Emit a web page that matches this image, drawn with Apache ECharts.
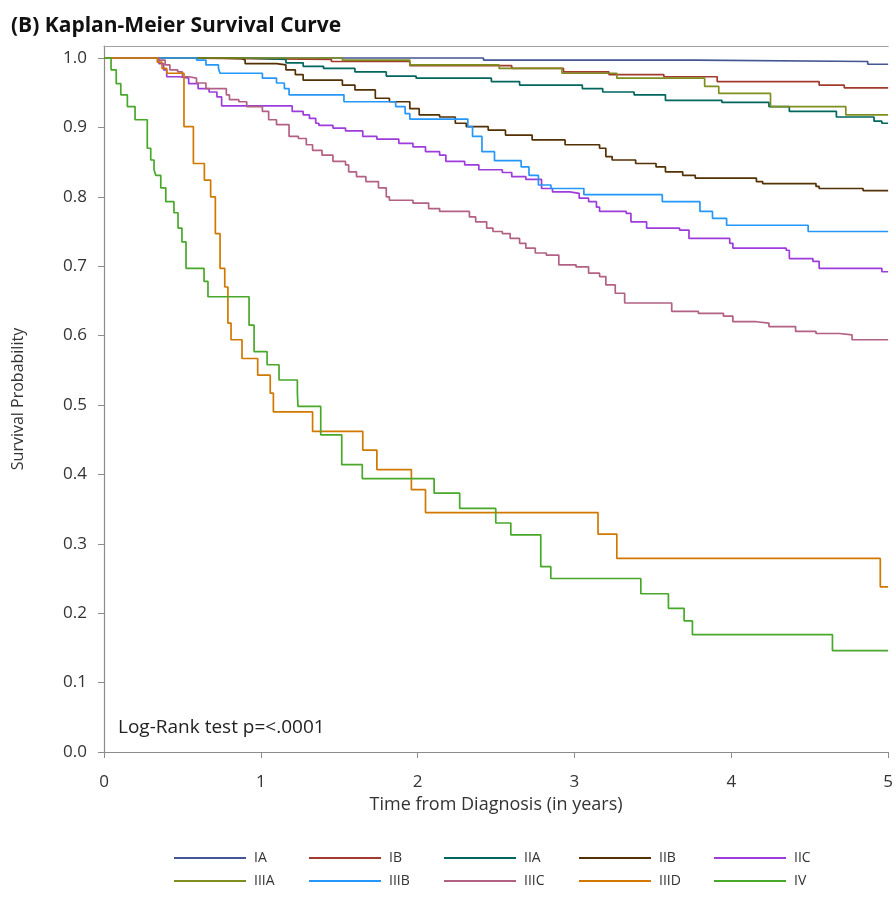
<!DOCTYPE html>
<html>
<head>
<meta charset="utf-8">
<title>Kaplan-Meier Survival Curve</title>
<script src="https://cdn.jsdelivr.net/npm/echarts@6/dist/echarts.min.js"></script>
<style>
	html, body { margin: 0; padding: 0; background: #fff; }
	#km-chart { width: 896px; height: 899px; }
</style>
</head>
<body>
<div id="km-chart"></div>
<script>
// stage names, in legend order
var stageNames = ['IA', 'IB', 'IIA', 'IIB', 'IIC', 'IIIA', 'IIIB', 'IIIC', 'IIID', 'IV'];
var stageColors = ['#445694', '#A23A2E', '#01665E', '#543005', '#9D3CDB',
	'#7F8E1F', '#2597FA', '#B26084', '#D17800', '#47A82A'];

var xTicks = [0, 1, 2, 3, 4, 5];
var yTicks = [0, 0.1, 0.2, 0.3, 0.4, 0.5, 0.6, 0.7, 0.8, 0.9, 1.0];

// [time in years, survival probability after the step]
var kmIA = [[0, 1], [2.42, 0.997], [3.77, 0.995], [4.87, 0.991], [5, 0.991]];

var kmIB = [[0, 1], [0.4, 0.998], [1.45, 0.995], [1.95, 0.989], [2.6, 0.985], [2.93, 0.98],
	[3.22, 0.976], [3.57, 0.973], [3.91, 0.966], [4.56, 0.961], [4.72, 0.957], [5, 0.957]];

var kmIIA = [[0, 1], [0.9, 0.998], [1.16, 0.993], [1.27, 0.988], [1.4, 0.985], [1.6, 0.98],
	[1.8, 0.974], [1.99, 0.971], [2.47, 0.966], [2.65, 0.961], [3.05, 0.956], [3.18, 0.951],
	[3.38, 0.947], [3.58, 0.939], [3.94, 0.936], [4.24, 0.93], [4.37, 0.923], [4.67, 0.915],
	[4.91, 0.909], [4.96, 0.906], [5, 0.906]];

var kmIIB = [[0, 1], [0.7, 0.999], [0.88, 0.997], [0.9, 0.992], [1.1, 0.99], [1.16, 0.983],
	[1.22, 0.976], [1.27, 0.968], [1.52, 0.961], [1.6, 0.954], [1.73, 0.942], [1.82, 0.937],
	[1.95, 0.927], [2.01, 0.918], [2.14, 0.915], [2.24, 0.906], [2.31, 0.901], [2.45, 0.896],
	[2.56, 0.889], [2.73, 0.882], [2.94, 0.875], [3.16, 0.87], [3.2, 0.858], [3.24, 0.853],
	[3.39, 0.848], [3.52, 0.843], [3.58, 0.836], [3.69, 0.831], [3.77, 0.827], [4.16, 0.822],
	[4.2, 0.819], [4.54, 0.815], [4.56, 0.812], [4.84, 0.809], [5, 0.809]];

var kmIIC = [[0, 1], [0.35, 0.992], [0.38, 0.983], [0.4, 0.973], [0.48, 0.971], [0.54, 0.963],
	[0.6, 0.956], [0.67, 0.951], [0.72, 0.944], [0.75, 0.931], [1.2, 0.923], [1.27, 0.918],
	[1.31, 0.913], [1.35, 0.906], [1.37, 0.903], [1.46, 0.899], [1.54, 0.895], [1.65, 0.887],
	[1.74, 0.883], [1.88, 0.877], [1.97, 0.872], [2.05, 0.865], [2.14, 0.86], [2.18, 0.851],
	[2.3, 0.846], [2.39, 0.839], [2.54, 0.835], [2.6, 0.829], [2.69, 0.825], [2.79, 0.812],
	[2.86, 0.807], [2.97, 0.805], [3.03, 0.798], [3.09, 0.793], [3.14, 0.785], [3.16, 0.779],
	[3.33, 0.776], [3.36, 0.764], [3.46, 0.755], [3.67, 0.752], [3.73, 0.74], [3.99, 0.733],
	[4.01, 0.726], [4.35, 0.723], [4.37, 0.711], [4.52, 0.707], [4.56, 0.697], [4.96, 0.692],
	[5, 0.692]];

var kmIIIA = [[0, 1], [1.52, 0.997], [1.95, 0.99], [2.52, 0.985], [2.92, 0.978], [3.27, 0.971],
	[3.83, 0.959], [3.92, 0.949], [4.25, 0.93], [4.73, 0.918], [5, 0.918]];

var kmIIIB = [[0, 1], [0.59, 0.997], [0.65, 0.99], [0.73, 0.985], [0.74, 0.978], [1.01, 0.971],
	[1.1, 0.964], [1.15, 0.956], [1.18, 0.947], [1.53, 0.937], [1.86, 0.93], [1.92, 0.92],
	[1.95, 0.912], [2.32, 0.901], [2.35, 0.887], [2.41, 0.865], [2.49, 0.852], [2.66, 0.843],
	[2.71, 0.831], [2.77, 0.817], [2.85, 0.812], [3.06, 0.803], [3.56, 0.793], [3.8, 0.779],
	[3.88, 0.769], [3.97, 0.759], [4.49, 0.75], [5, 0.75]];

var kmIIIC = [[0, 1], [0.35, 0.997], [0.39, 0.99], [0.42, 0.983], [0.47, 0.98], [0.5, 0.973],
	[0.54, 0.971], [0.59, 0.964], [0.65, 0.956], [0.78, 0.947], [0.8, 0.94], [0.86, 0.937],
	[0.91, 0.93], [1.01, 0.923], [1.05, 0.911], [1.1, 0.904], [1.18, 0.887], [1.24, 0.884],
	[1.29, 0.875], [1.33, 0.867], [1.39, 0.86], [1.46, 0.851], [1.54, 0.846], [1.56, 0.836],
	[1.61, 0.829], [1.67, 0.822], [1.75, 0.813], [1.8, 0.8], [1.82, 0.795], [1.97, 0.791],
	[2.07, 0.783], [2.14, 0.779], [2.33, 0.771], [2.37, 0.764], [2.44, 0.755], [2.48, 0.75],
	[2.54, 0.747], [2.59, 0.74], [2.65, 0.733], [2.69, 0.726], [2.75, 0.719], [2.82, 0.716],
	[2.9, 0.702], [3.01, 0.699], [3.09, 0.69], [3.16, 0.685], [3.2, 0.673], [3.26, 0.661],
	[3.32, 0.647], [3.62, 0.635], [3.79, 0.632], [3.95, 0.628], [4.01, 0.62], [4.16, 0.618],
	[4.24, 0.613], [4.41, 0.606], [4.54, 0.603], [4.69, 0.601], [4.77, 0.594], [5, 0.594]];

var kmIIID = [[0, 1], [0.34, 0.994], [0.37, 0.985], [0.4, 0.978], [0.51, 0.901], [0.57, 0.848],
	[0.64, 0.824], [0.68, 0.8], [0.71, 0.747], [0.74, 0.697], [0.77, 0.67], [0.79, 0.618],
	[0.81, 0.594], [0.88, 0.567], [0.98, 0.543], [1.06, 0.517], [1.08, 0.49], [1.33, 0.462],
	[1.65, 0.435], [1.74, 0.407], [1.96, 0.378], [2.05, 0.345], [3.15, 0.314], [3.27, 0.279],
	[4.95, 0.238], [5, 0.238]];

var kmIV = [[0, 1], [0.045, 0.983], [0.078, 0.963], [0.107, 0.947], [0.149, 0.93], [0.198, 0.911],
	[0.276, 0.87], [0.298, 0.853], [0.319, 0.839], [0.33, 0.831], [0.362, 0.813], [0.394, 0.793],
	[0.446, 0.777], [0.472, 0.755], [0.497, 0.735], [0.523, 0.697], [0.638, 0.678], [0.663, 0.656],
	[0.925, 0.615], [0.957, 0.577], [1.04, 0.558], [1.116, 0.536], [1.233, 0.517], [1.237, 0.498],
	[1.382, 0.457], [1.516, 0.414], [1.647, 0.394], [2.105, 0.373], [2.268, 0.351], [2.498, 0.33],
	[2.594, 0.313], [2.785, 0.267], [2.849, 0.25], [3.423, 0.228], [3.599, 0.207], [3.699, 0.189],
	[3.752, 0.169], [4.645, 0.146], [5, 0.146]];

var kmCurves = [kmIA, kmIB, kmIIA, kmIIB, kmIIC, kmIIIA, kmIIIB, kmIIIC, kmIIID, kmIV];

var txtFont = "'Open Sans', 'Noto Sans', sans-serif";

var kmChart = echarts.init(document.getElementById('km-chart'));

var seriesList = [];
for (var i = 0; i < stageNames.length; i++) {
	seriesList.push({
		name : stageNames[i],
		type : 'line',
		step : 'end',
		showSymbol : false,
		symbol : 'none',
		silent : true,
		data : kmCurves[i],
		lineStyle : {
			color : stageColors[i],
			width : 1.7
		},
		itemStyle : {
			color : stageColors[i]
		}
	});
}

// one legend per entry so the two rows line up in columns
var legendList = [];
for (var i = 0; i < stageNames.length; i++) {
	legendList.push({
		data : [stageNames[i]],
		left : 174 + (i % 5) * 135,
		top : i < 5 ? 851 : 874,
		padding : 0,
		icon : 'rect',
		itemWidth : 72,
		itemHeight : 2,
		selectedMode : false,
		textStyle : {
			fontFamily : txtFont,
			fontSize : 14,
			color : '#333',
			padding : [0, 0, 0, 3]
		}
	});
}

var kmOption = {
	backgroundColor : '#fff',
	animation : false,
	title : {
		text : '(B) Kaplan-Meier Survival Curve',
		left : 6,
		top : 11,
		textStyle : {
			fontFamily : txtFont,
			fontSize : 21,
			fontWeight : 'bold',
			color : '#111'
		}
	},
	legend : legendList,
	grid : {
		left : 104,
		right : 7,
		top : 46,
		bottom : 147
	},
	xAxis : [
		{
			type : 'value',
			min : 0,
			max : 5,
			interval : 1,
			name : 'Time from Diagnosis (in years)',
			nameLocation : 'middle',
			nameGap : 44,
			nameTextStyle : {
				fontFamily : txtFont,
				fontSize : 18,
				color : '#333'
			},
			axisLine : { lineStyle : { color : '#8c8c8c', width : 1.2 } },
			axisTick : { length : 6, lineStyle : { color : '#8c8c8c' } },
			axisLabel : {
				margin : 22,
				fontFamily : txtFont,
				fontSize : 17,
				color : '#333',
				customValues : xTicks
			},
			splitLine : { show : false }
		},
		{
			type : 'value',
			position : 'top',
			min : 0,
			max : 5,
			axisLine : { show : true, lineStyle : { color : '#a0a0a0', width : 1.2 } },
			axisTick : { show : false },
			axisLabel : { show : false },
			splitLine : { show : false }
		}
	],
	yAxis : {
		type : 'value',
		min : 0,
		max : 1.0173,
		name : 'Survival Probability',
		nameLocation : 'middle',
		nameGap : 78,
		nameTextStyle : {
			fontFamily : txtFont,
			fontSize : 16,
			color : '#333'
		},
		axisLine : { show : true, lineStyle : { color : '#8c8c8c', width : 1.2 } },
		axisTick : { show : true, length : 6, customValues : yTicks, lineStyle : { color : '#8c8c8c' } },
		axisLabel : {
			margin : 17,
			fontFamily : txtFont,
			fontSize : 17,
			color : '#333',
			customValues : yTicks,
			formatter : function(v) {
				return v.toFixed(1);
			}
		},
		splitLine : { show : false }
	},
	graphic : [
		{
			type : 'text',
			left : 118,
			top : 718,
			style : {
				text : 'Log-Rank test p=<.0001',
				fontFamily : txtFont,
				fontSize : 19,
				fill : '#222'
			}
		}
	],
	series : seriesList
};

kmChart.setOption(kmOption);
</script>
</body>
</html>
